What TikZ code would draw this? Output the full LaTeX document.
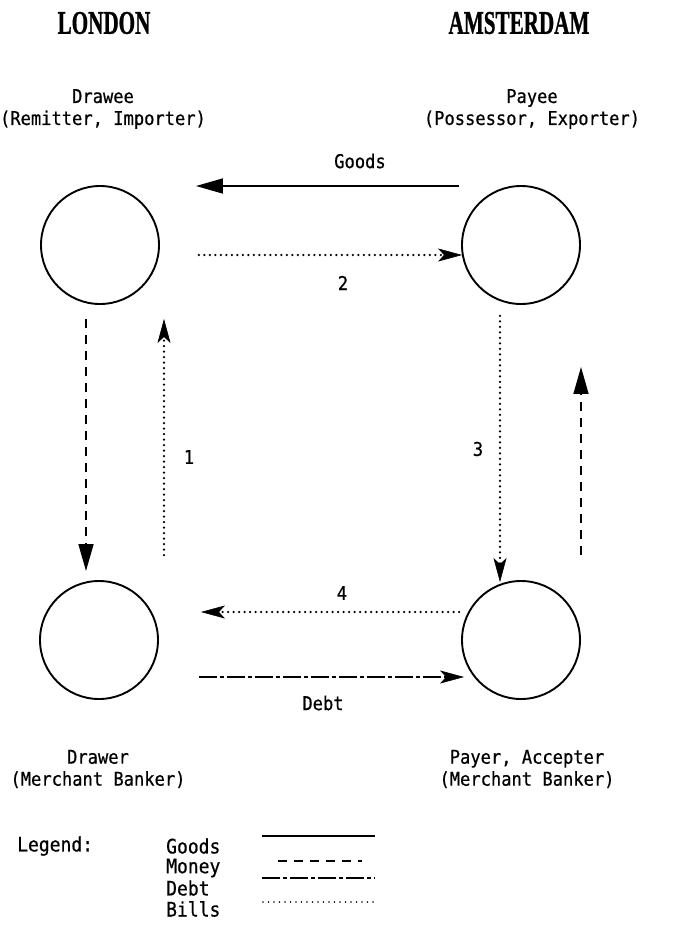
\documentclass[tikz,border=0pt]{standalone}
\usepackage{fontspec}
\usepackage{graphicx}
\setmainfont{DejaVu Sans Mono}
\newfontfamily\plotfont{DejaVu Sans Mono}[FakeStretch=0.9,FakeBold=0.6]
\newfontfamily\titlefont{Liberation Serif}[FakeBold=1.2]
\usetikzlibrary{arrows.meta,calc}

\begin{document}
\begin{tikzpicture}[x=1pt,y=-1pt,
  party/.style={circle,draw,line width=1.9pt,minimum size=118pt,inner sep=0pt},
  caption/.style={align=center,inner sep=0pt,font=\plotfont\fontsize{19}{22}\selectfont},
  legendtext/.style={inner sep=0pt,font=\plotfont\fontsize{20}{22}\selectfont},
  citytitle/.style={inner sep=0pt,font=\titlefont\bfseries\fontsize{33}{35}\selectfont},
  flow/.style={line width=1.5pt},
  goodsline/.style={flow},
  moneyline/.style={flow,dash pattern=on 9pt off 7pt},
  billsline/.style={line width=2.5pt,line cap=round,dash pattern=on 0pt off 5.5pt},
  debtline/.style={flow,dash pattern=on 18pt off 3pt on 4pt off 3pt},
  bigtip/.style={-{Triangle[length=27pt,width=15pt]}},
  thintip/.style={-{Stealth[length=24pt,width=13pt,inset=6pt,line width=0.5pt]}},
]
\useasboundingbox (0,0) rectangle (693,932);

% city headings
\node[citytitle] (london) at (104,23) {\scalebox{0.64}[1]{LONDON}};
\node[citytitle] (amsterdam) at (519,23) {\scalebox{0.64}[1]{AMSTERDAM}};

% the four parties
\node[party] (drawee) at (100,245) {};
\node[party] (payee)  at (521,245) {};
\node[party] (drawer) at (99,640) {};
\node[party] (payer)  at (521,640) {};

\node[caption] (draweecap) at (103,109) {Drawee\\(Remitter, Importer)};
\node[caption] (payeecap)  at (532,109) {Payee\\(Possessor, Exporter)};
\node[caption] (drawercap) at (98,769)  {Drawer\\(Merchant Banker)};
\node[caption] (payercap)  at (527,769) {Payer, Accepter\\(Merchant Banker)};

% flows between the parties
\draw[goodsline,bigtip] ($(payee.west)+(-2,-59)$) -- ($(drawee.east)+(36,-59)$);
\node[caption] (goodslbl) at (360,161) {Goods};

\draw[billsline,thintip] ($(drawee.east)+(39,10)$) -- ($(payee.west)+(1,10)$);
\node[caption] (two) at (343,283) {2};

\draw[moneyline,bigtip] ($(drawee.south)+(-14,14)$) -- ($(drawer.north)+(-13,-9)$);

\draw[billsline,thintip] ($(drawer.north)+(65,-25)$) -- ($(drawee.south)+(64,14)$);
\node[caption] (one) at (189,457) {1};

\draw[billsline,thintip] ($(payee.south)+(-21,11)$) -- ($(payer.north)+(-21,2)$);
\node[caption] (three) at (478,449) {3};

\draw[moneyline,bigtip] ($(payer.north)+(60,-25)$) -- ($(payee.south)+(60,62)$);

\draw[billsline,thintip] ($(payer.west)+(-2,-28)$) -- ($(drawer.east)+(42,-28)$);
\node[caption] (four) at (342,593) {4};

\draw[debtline,thintip] ($(drawer.east)+(40,37)$) -- ($(payer.west)+(3,37)$);
\node[caption] (debtlbl) at (323,703) {Debt};

% legend
\node[legendtext,anchor=west] (legend) at (17,846) {Legend:};
\node[legendtext,anchor=west] (lgoods) at (166,846) {Goods};
\node[legendtext,anchor=west] (lmoney) at (166,868) {Money};
\node[legendtext,anchor=west] (ldebt)  at (166,888) {Debt};
\node[legendtext,anchor=west] (lbills) at (166,909) {Bills};

\coordinate (ga) at (262,836); \coordinate (gb) at (375,836);
\coordinate (ma) at (278,861); \coordinate (mb) at (362,861);
\coordinate (da) at (262,878); \coordinate (db) at (375,878);
\coordinate (ba) at (263,902); \coordinate (bb) at (373,902);
\draw[goodsline] (ga) -- (gb);
\draw[moneyline] (ma) -- (mb);
\draw[debtline]  (da) -- (db);
\draw[billsline,line width=1.8pt] (ba) -- (bb);
\end{tikzpicture}
\end{document}
